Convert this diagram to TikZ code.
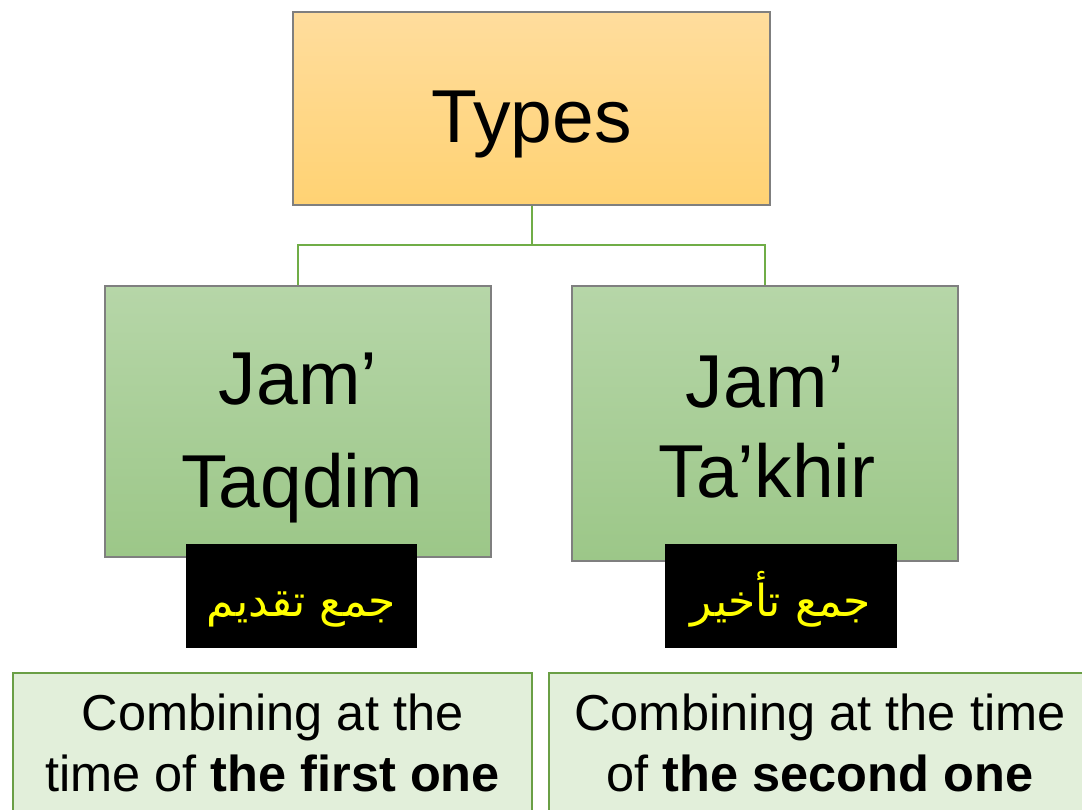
\documentclass[tikz,border=0pt]{standalone}
\usepackage{fontspec}
\setmainfont{Liberation Sans}
\newfontfamily\arabicfont[Script=Arabic]{DejaVu Sans}
\TeXXeTstate=1
\definecolor{orTop}{HTML}{FFDD9D}
\definecolor{orBot}{HTML}{FFD273}
\definecolor{grTop}{HTML}{B6D6A8}
\definecolor{grBot}{HTML}{9CC788}
\definecolor{paleGr}{HTML}{E2EFDA}
\definecolor{lineGr}{HTML}{70AD47}
\definecolor{edgeGr}{HTML}{6A9F45}
\definecolor{boxEdge}{HTML}{7F7F7F}
\definecolor{arYel}{HTML}{FFFF00}
\tikzset{
  box/.style={draw=boxEdge, line width=1.2pt, rectangle, inner sep=0pt},
  topbox/.style={box, top color=orTop, bottom color=orBot},
  greenbox/.style={box, top color=grTop, bottom color=grBot},
  blackbox/.style={rectangle, fill=black, inner sep=0pt},
  notebox/.style={rectangle, draw=edgeGr, line width=1.2pt, fill=paleGr, inner sep=0pt},
  conn/.style={draw=lineGr, line width=2pt},
  bigtxt/.style={anchor=base, inner sep=0pt, font=\fontsize{75}{90}\selectfont},
  smalltxt/.style={anchor=base, inner sep=0pt, font=\fontsize{50.5}{60}\selectfont},
  artxt/.style={anchor=base, inner sep=0pt, text=arYel, font=\arabicfont\fontsize{44}{52}\selectfont}
}
\begin{document}
\begin{tikzpicture}[x=1pt, y=-1pt]
\useasboundingbox (0,0) rectangle (1082,809);
\clip (0,0) rectangle (1082,809);
% boxes
\node[topbox, minimum width=477pt, minimum height=193pt] (types) at (531.5,108.5) {};
\node[greenbox, minimum width=386pt, minimum height=271pt] (jt) at (298,421.5) {};
\node[greenbox, minimum width=386pt, minimum height=275pt] (jk) at (765,423.5) {};
\node[blackbox, minimum width=231pt, minimum height=104pt] (bt) at (301.5,596) {};
\node[blackbox, minimum width=232pt, minimum height=104pt] (bk) at (781,596) {};
\node[notebox, minimum width=519pt, minimum height=160pt] (nt) at (272.5,753) {};
\node[notebox, minimum width=542pt, minimum height=160pt] (nk) at (820,753) {};
% connectors
\coordinate (split) at (531.5,245);
\draw[conn] (types.south) -- (split);
\draw[conn] (split) -| (jt.north);
\draw[conn] (split) -| (jk.north);
% texts
\node[bigtxt] (typesT) at (531.5,142) {Types};
\node[bigtxt] (jtA) at (298,404) {Jam’};
\node[bigtxt] (jtB) at (302,507) {Taqdim};
\node[bigtxt] (jkA) at (765,407) {Jam’};
\node[bigtxt] (jkB) at (767,497) {Ta’khir};
\node[artxt] (btT) at (301.5,616) {\beginR جمع تقديم\endR};
\node[artxt] (bkT) at (781,616) {\beginR جمع تأخير\endR};
\node[smalltxt] (ntA) at (272.5,730) {Combining at the};
\node[smalltxt] (ntB) at (272.5,791) {time of \textbf{the first one}};
\node[smalltxt] (nkA) at (820,730) {Combining at the time};
\node[smalltxt] (nkB) at (820,791) {of \textbf{the second one}};
\end{tikzpicture}
\end{document}
